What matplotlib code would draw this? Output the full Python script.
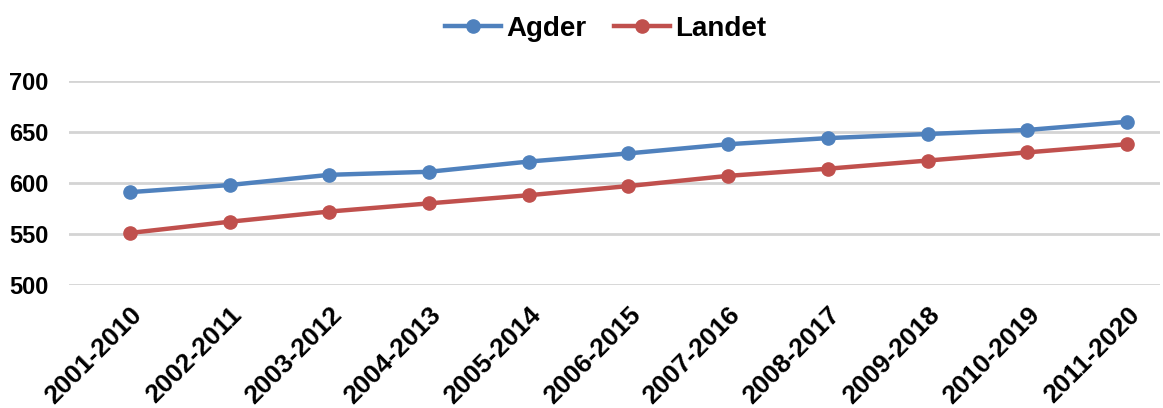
import matplotlib
matplotlib.use('Agg')
import matplotlib.pyplot as plt

# ── data ──────────────────────────────────────────────
periods = ["2001-2010", "2002-2011", "2003-2012", "2004-2013", "2005-2014",
           "2006-2015", "2007-2016", "2008-2017", "2009-2018", "2010-2019",
           "2011-2020"]
agder = [591, 598, 608, 611, 621, 629, 638, 644, 648, 652, 660]
landet = [551, 562, 572, 580, 588, 597, 607, 614, 622, 630, 638]
yticks = [500, 550, 600, 650, 700]

BLUE = "#4F81BD"
RED = "#C0504D"

plt.rcParams['font.family'] = ['Liberation Sans', 'DejaVu Sans']
plt.rcParams['font.weight'] = 'bold'

fig = plt.figure(figsize=(11.63, 4.08), dpi=100)
ax = fig.add_axes([0.0593, 0.3015, 0.9381, 0.5])

x = list(range(len(periods)))
ax.plot(x, agder, color=BLUE, lw=3.2, marker='o', ms=9.5, label="Agder")
ax.plot(x, landet, color=RED, lw=3.2, marker='o', ms=9.5, label="Landet")

ax.set_xlim(-0.61, 10.33)
ax.set_ylim(500, 700)
ax.set_yticks(yticks)
ax.set_xticks(x)
ax.set_xticklabels(periods, rotation=45, ha='right', va='top',
                   rotation_mode='anchor', fontsize=19, fontweight='bold')
ax.tick_params(axis='y', labelsize=17, length=0, pad=15)
ax.tick_params(axis='x', length=0, pad=13)
for lab in ax.get_yticklabels():
    lab.set_fontweight('bold')

ax.grid(axis='y', color='#D4D4D4', lw=2)
ax.set_axisbelow(True)
for s in ax.spines.values():
    s.set_visible(False)

fig.legend(loc='center', bbox_to_anchor=(0.521, 0.93), ncol=2, frameon=False,
           prop={'size': 20, 'weight': 'bold'}, handlelength=2.0,
           columnspacing=1.0, handletextpad=0.2)

fig.savefig("out.png", dpi=100)
